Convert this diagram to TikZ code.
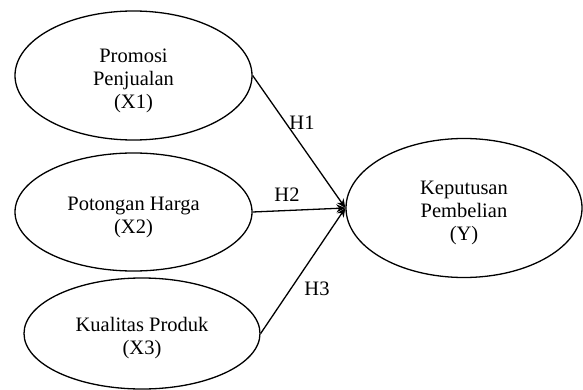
\documentclass[tikz,border=0pt]{standalone}
\usepackage{fontspec}
\setmainfont{Liberation Serif}
\usetikzlibrary{shapes.geometric,arrows.meta}
\begin{document}
\begin{tikzpicture}[x=1pt,y=-1pt,
  var/.style={draw,line width=1.3pt,ellipse,inner sep=0pt},
  vtext/.style={align=center,inner sep=0pt,yshift=-5pt,
    font=\fontsize{20.5}{23}\selectfont},
  conn/.style={line width=1.3pt,-{Stealth[length=9pt,width=8pt]}},
  hlab/.style={font=\fontsize{20.5}{23}\selectfont,inner sep=0pt}]
\useasboundingbox (0,0) rectangle (583,390);
\node[var,minimum width=237pt,minimum height=129pt] (x1) at (133.5,75.5) {};
\node[var,minimum width=237pt,minimum height=118pt] (x2) at (133.5,212) {};
\node[var,minimum width=236pt,minimum height=111pt] (x3) at (142,333.5) {};
\node[var,minimum width=236pt,minimum height=139pt] (y) at (464,208) {};
\node[vtext] (x1t) at (x1) {Promosi\\Penjualan\\(X1)};
\node[vtext] (x2t) at (x2) {Potongan Harga\\(X2)};
\node[vtext] (x3t) at (x3) {Kualitas Produk\\(X3)};
\node[vtext] (yt) at (y) {Keputusan\\Pembelian\\(Y)};
\draw[conn] (x1.east) -- (y.west);
\draw[conn] (x2.east) -- (y.west);
\draw[conn] (x3.east) -- (y.west);
\node[hlab] (h1) at (302,123) {H1};
\node[hlab] (h2) at (287,195) {H2};
\node[hlab] (h3) at (317,289) {H3};
\end{tikzpicture}
\end{document}
